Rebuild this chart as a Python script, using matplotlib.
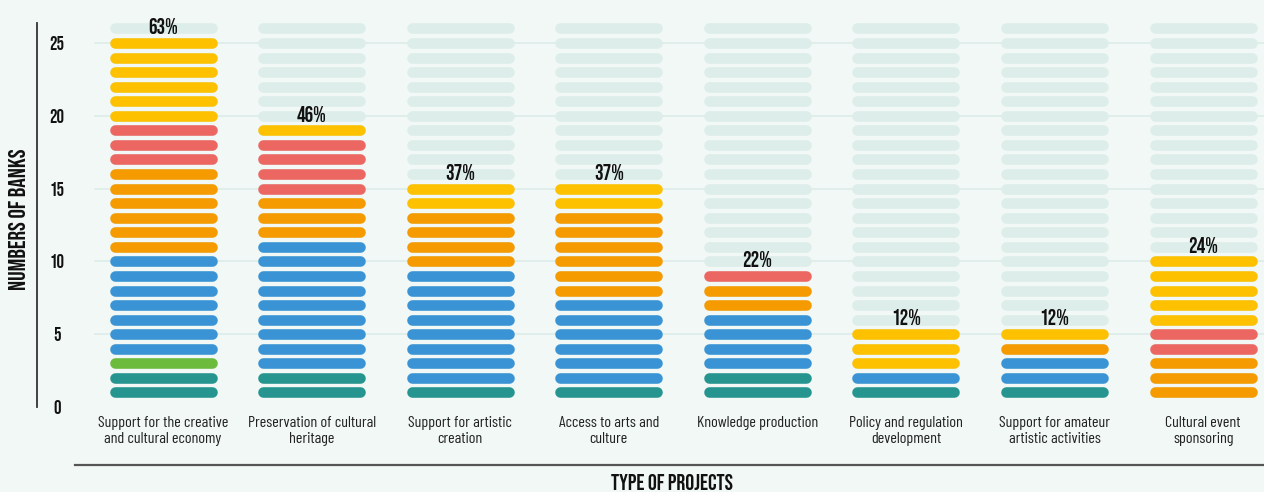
import matplotlib
matplotlib.use("Agg")
import matplotlib.pyplot as plt
from matplotlib.lines import Line2D
from matplotlib import font_manager as fm

categories = ["Support for the creative\nand cultural economy",
              "Preservation of cultural\nheritage",
              "Support for artistic\ncreation",
              "Access to arts and\nculture",
              "Knowledge production",
              "Policy and regulation\ndevelopment",
              "Support for amateur\nartistic activities",
              "Cultural event\nsponsoring"]
percent_labels = ["63%", "46%", "37%", "37%", "22%", "12%", "12%", "24%"]
# counts per colour group, stacked bottom-to-top in this order
teal = [2, 2, 1, 1, 2, 1, 1, 0]
green = [1, 0, 0, 0, 0, 0, 0, 0]
blue = [7, 9, 8, 6, 4, 1, 2, 0]
orange = [6, 3, 4, 6, 2, 0, 1, 3]
red = [3, 4, 0, 0, 1, 0, 0, 2]
yellow = [6, 1, 2, 2, 0, 3, 1, 5]
yticks = [0, 5, 10, 15, 20, 25]
max_rows = 26

groups = [(teal, "#26958f"), (green, "#6cbb3c"), (blue, "#3a93d4"),
          (orange, "#f59b00"), (red, "#ec6662"), (yellow, "#fdc100")]

avail = {f.name for f in fm.fontManager.ttflist}
def pick(*names):
    for nme in names:
        if nme in avail:
            return nme
    return "DejaVu Sans"

HEAD = pick("Bebas Neue", "Barlow Condensed", "Roboto")
HEAD_W = "normal" if HEAD == "Bebas Neue" else "bold"
BODY = pick("Barlow Condensed", "Roboto")
HF = [HEAD, "DejaVu Sans"]
BF = [BODY, "DejaVu Sans"]

BG = "#f2f8f6"
fig = plt.figure(figsize=(12.64, 4.92), dpi=100, facecolor=BG)
ax = fig.add_axes([37 / 1264, 85 / 492, 1 - 37 / 1264, (407 - 23) / 492])
ax.set_facecolor(BG)

px = 148.6
xmin = (37 - 163) / px
xmax = (1264 - 163) / px
ax.set_xlim(xmin, xmax)
ax.set_ylim(0, 26.37)

# gridlines
for t in yticks[1:]:
    ax.plot([(95 - 163) / px, xmax], [t, t], color="#dcece8", lw=1.2, zorder=0)

half = (107 - 10) / 2 / px
lw = 7.6
n = len(categories)
for i in range(n):
    ys = list(range(1, max_rows + 1))
    ax.hlines(ys, i - half, i + half, colors="#dcedea", linewidth=lw,
              capstyle="round", zorder=1)
    level = 0
    for arr, col in groups:
        c = arr[i]
        if c:
            ys = list(range(level + 1, level + c + 1))
            ax.hlines(ys, i - half, i + half, colors=col, linewidth=lw,
                      capstyle="round", zorder=2)
            level += c
    ax.text(i, level + 1.15, percent_labels[i], ha="center", va="center",
            fontsize=15.5, fontweight=HEAD_W, family=HF, color="#111111", zorder=3)
    ax.text(i, -0.6, categories[i], ha="center", va="top", fontsize=11.6,
            family=BF, color="#222222", linespacing=1.2)

# y tick labels (inside the spine)
for t in yticks:
    ax.text((57 - 37) / (1264 - 37), t, str(t), transform=ax.get_yaxis_transform(),
            ha="center", va="center", fontsize=13.5, fontweight=HEAD_W, family=HF,
            color="#111111")

ax.set_xticks([])
ax.set_yticks([])
for s in ["top", "right", "bottom"]:
    ax.spines[s].set_visible(False)
ax.spines["left"].set_color("#333333")
ax.spines["left"].set_linewidth(1.3)

fig.text(18 / 1264, 1 - 219 / 492, "NUMBERS OF BANKS", rotation=90, ha="center",
         va="center", fontsize=17, fontweight=HEAD_W, family=HF, color="#111111")
fig.add_artist(Line2D([75 / 1264, 1.0], [1 - 465 / 492, 1 - 465 / 492],
                      color="#555555", lw=1.6, transform=fig.transFigure))
fig.text(672 / 1264, 1 - 482 / 492, "TYPE OF PROJECTS", ha="center", va="center",
         fontsize=16, fontweight=HEAD_W, family=HF, color="#111111")

fig.savefig("out.png", dpi=100, facecolor=BG)
